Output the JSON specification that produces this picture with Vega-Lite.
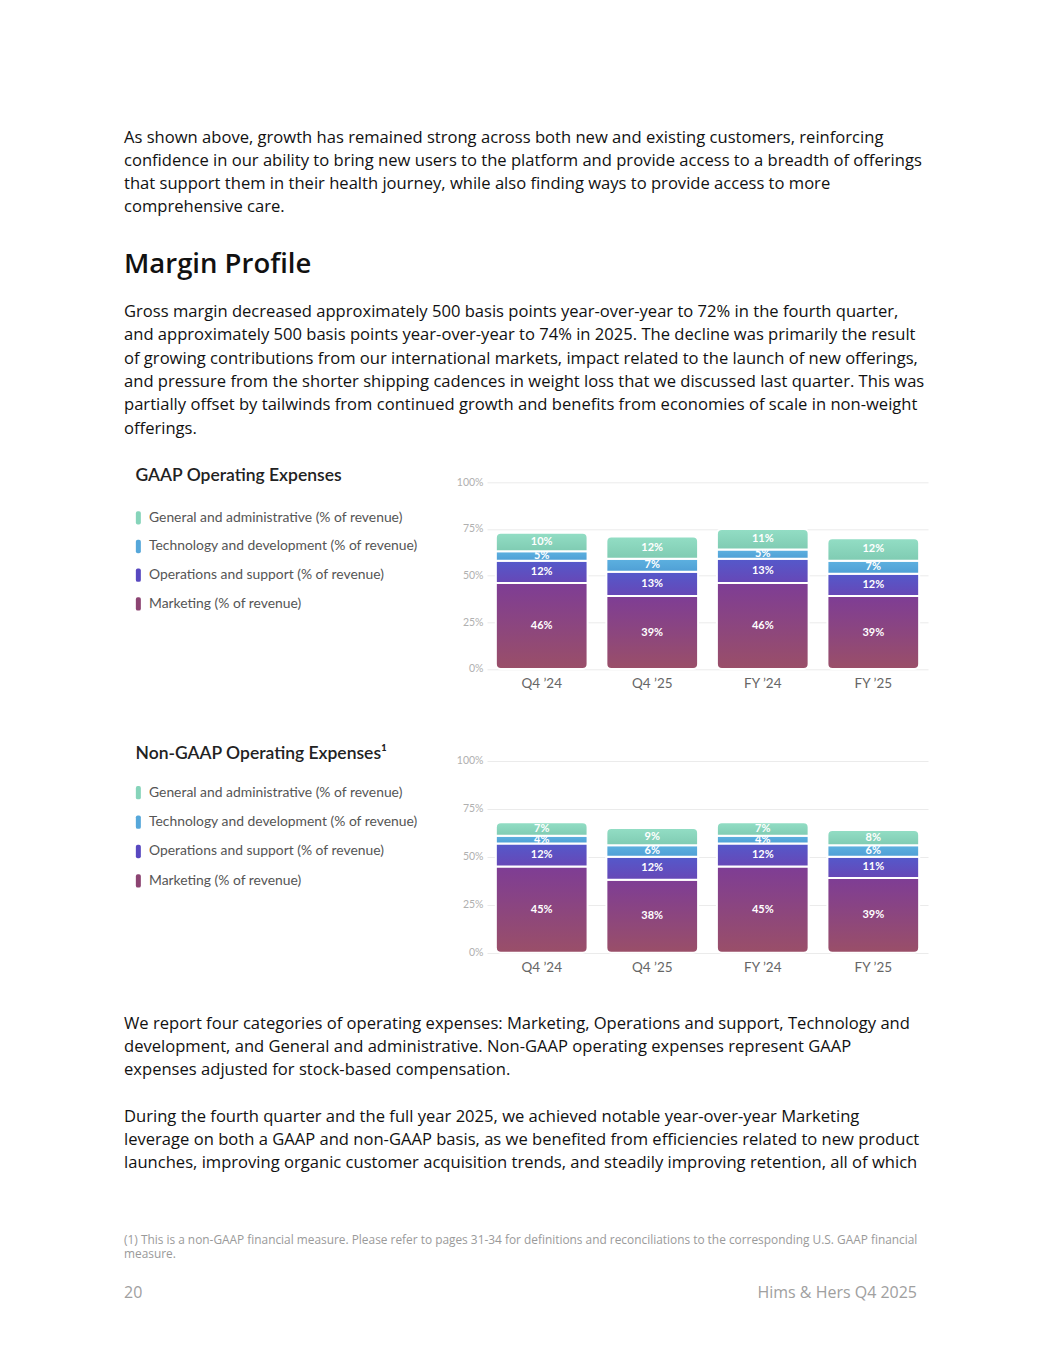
{
  "$schema": "https://vega.github.io/schema/vega-lite/v6.json",
  "background": "white",
  "padding": {"left": 124, "top": 129.3, "right": 20, "bottom": 20},
  "spacing": 91.7,
  "bounds": "flush",
  "resolve": {"scale": {"color": "independent"}, "legend": {"color": "independent"}},
  "config": {
    "view": {"stroke": null},
    "axisX": {"labelFont": "Lato", "labelFontSize": 13.5, "labelColor": "#666666", "labelAngle": 0, "labelPadding": 7.6, "ticks": false, "domain": false, "grid": false},
    "axisY": {"labelFont": "Lato", "labelFontSize": 10.5, "labelColor": "#b0b0b0", "labelPadding": 4, "ticks": false, "domain": false, "grid": true, "gridColor": "#ebebeb", "gridWidth": 1},
    "legend": {
      "orient": "none", "padding": 0,
      "titleFont": "Lato", "titleFontSize": 17.5, "titleFontWeight": 600, "titleColor": "#222222", "titleLimit": 1000,
      "labelFont": "Lato", "labelFontSize": 13.9, "labelColor": "#555555", "labelLimit": 1000, "labelOffset": -0.5,
      "symbolType": "M-1,-0.72 Q-1,-1 -0.72,-1 L-0.528,-1 Q-0.248,-1 -0.248,-0.72 L-0.248,0.72 Q-0.248,1 -0.528,1 L-0.72,1 Q-1,1 -1,0.72 Z",
      "symbolSize": 177, "symbolStrokeWidth": 0, "symbolOpacity": 1
    }
  },
  "datasets": {
    "gaap": [
      {"period": "Q4 ’24", "cat": "Marketing", "v": 0.46},
      {"period": "Q4 ’24", "cat": "Operations and support", "v": 0.12},
      {"period": "Q4 ’24", "cat": "Technology and development", "v": 0.05},
      {"period": "Q4 ’24", "cat": "General and administrative", "v": 0.10},
      {"period": "Q4 ’25", "cat": "Marketing", "v": 0.39},
      {"period": "Q4 ’25", "cat": "Operations and support", "v": 0.13},
      {"period": "Q4 ’25", "cat": "Technology and development", "v": 0.07},
      {"period": "Q4 ’25", "cat": "General and administrative", "v": 0.12},
      {"period": "FY ’24", "cat": "Marketing", "v": 0.46},
      {"period": "FY ’24", "cat": "Operations and support", "v": 0.13},
      {"period": "FY ’24", "cat": "Technology and development", "v": 0.05},
      {"period": "FY ’24", "cat": "General and administrative", "v": 0.11},
      {"period": "FY ’25", "cat": "Marketing", "v": 0.39},
      {"period": "FY ’25", "cat": "Operations and support", "v": 0.12},
      {"period": "FY ’25", "cat": "Technology and development", "v": 0.07},
      {"period": "FY ’25", "cat": "General and administrative", "v": 0.12}
    ],
    "nongaap": [
      {"period": "Q4 ’24", "cat": "Marketing", "v": 0.45},
      {"period": "Q4 ’24", "cat": "Operations and support", "v": 0.12},
      {"period": "Q4 ’24", "cat": "Technology and development", "v": 0.04},
      {"period": "Q4 ’24", "cat": "General and administrative", "v": 0.07},
      {"period": "Q4 ’25", "cat": "Marketing", "v": 0.38},
      {"period": "Q4 ’25", "cat": "Operations and support", "v": 0.12},
      {"period": "Q4 ’25", "cat": "Technology and development", "v": 0.06},
      {"period": "Q4 ’25", "cat": "General and administrative", "v": 0.09},
      {"period": "FY ’24", "cat": "Marketing", "v": 0.45},
      {"period": "FY ’24", "cat": "Operations and support", "v": 0.12},
      {"period": "FY ’24", "cat": "Technology and development", "v": 0.04},
      {"period": "FY ’24", "cat": "General and administrative", "v": 0.07},
      {"period": "FY ’25", "cat": "Marketing", "v": 0.39},
      {"period": "FY ’25", "cat": "Operations and support", "v": 0.11},
      {"period": "FY ’25", "cat": "Technology and development", "v": 0.06},
      {"period": "FY ’25", "cat": "General and administrative", "v": 0.08}
    ]
  },
  "title": {
    "text": [
      "As shown above, growth has remained strong across both new and existing customers, reinforcing",
      "confidence in our ability to bring new users to the platform and provide access to a breadth of offerings",
      "that support them in their health journey, while also finding ways to provide access to more",
      "comprehensive care."
    ],
    "orient": "top", "anchor": "start", "frame": "group", "dx": -363, "offset": 35.1, "baseline": "top",
    "font": "Open Sans", "fontSize": 16.6, "fontWeight": "normal", "color": "#111111", "lineHeight": 23.3, "limit": 2000
  },
  "vconcat": [
    {
      "width": 441, "height": 186.6,
      "data": {"name": "gaap"},
      "title": {
        "text": "Margin Profile",
        "subtitle": [
          "Gross margin decreased approximately 500 basis points year-over-year to 72% in the fourth quarter,",
          "and approximately 500 basis points year-over-year to 74% in 2025. The decline was primarily the result",
          "of growing contributions from our international markets, impact related to the launch of new offerings,",
          "and pressure from the shorter shipping cadences in weight loss that we discussed last quarter. This was",
          "partially offset by tailwinds from continued growth and benefits from economies of scale in non-weight",
          "offerings."
        ],
        "orient": "top", "anchor": "start", "frame": "group", "dx": -363, "offset": 29.3, "baseline": "top",
        "font": "Open Sans", "fontSize": 27.5, "fontWeight": 600, "color": "#111111", "limit": 2000,
        "subtitleFont": "Open Sans", "subtitleFontSize": 16.6, "subtitleFontWeight": "normal", "subtitleColor": "#111111",
        "subtitleLineHeight": 23.3, "subtitlePadding": 25.5
      },
      "transform": [
        {"stack": "v", "groupby": ["period"], "as": ["y0", "y1"]},
        {"calculate": "(datum.y0 + datum.y1) / 2", "as": "mid"}
      ],
      "encoding": {
        "x": {"field": "period", "type": "nominal", "sort": ["Q4 ’24", "Q4 ’25", "FY ’24", "FY ’25"], "scale": {"paddingInner": 0.17, "paddingOuter": 0.08}, "axis": {"title": null}},
        "y": {"field": "y1", "type": "quantitative", "scale": {"domain": [0, 1], "nice": false}, "axis": {"values": [0, 0.25, 0.5, 0.75, 1], "format": ".0%", "title": null}}
      },
      "layer": [
        {"transform": [{"filter": "datum.cat === 'Marketing'"}],
         "mark": {"type": "bar", "stroke": "white", "strokeWidth": 2, "cornerRadiusBottomLeft": 5, "cornerRadiusBottomRight": 5,
                  "fill": {"gradient": "linear", "x1": 0, "y1": 0, "x2": 0, "y2": 1, "stops": [{"offset": 0, "color": "#7e3d95"}, {"offset": 1, "color": "#9a4f68"}]}},
         "encoding": {"y2": {"field": "y0"}}},
        {"transform": [{"filter": "datum.cat === 'Operations and support'"}],
         "mark": {"type": "bar", "stroke": "white", "strokeWidth": 2,
                  "fill": {"gradient": "linear", "x1": 0, "y1": 0, "x2": 0, "y2": 1, "stops": [{"offset": 0, "color": "#5459cb"}, {"offset": 1, "color": "#6747b6"}]}},
         "encoding": {"y2": {"field": "y0"}}},
        {"transform": [{"filter": "datum.cat === 'Technology and development'"}],
         "mark": {"type": "bar", "stroke": "white", "strokeWidth": 2,
                  "fill": {"gradient": "linear", "x1": 0, "y1": 0, "x2": 0, "y2": 1, "stops": [{"offset": 0, "color": "#5db1e0"}, {"offset": 1, "color": "#4f9fd5"}]}},
         "encoding": {"y2": {"field": "y0"}}},
        {"transform": [{"filter": "datum.cat === 'General and administrative'"}],
         "mark": {"type": "bar", "stroke": "white", "strokeWidth": 2, "cornerRadiusTopLeft": 5, "cornerRadiusTopRight": 5,
                  "fill": {"gradient": "linear", "x1": 0, "y1": 0, "x2": 0, "y2": 1, "stops": [{"offset": 0, "color": "#93dec5"}, {"offset": 1, "color": "#7fcbb2"}]}},
         "encoding": {"y2": {"field": "y0"}}},
        {"transform": [{"filter": "false"}],
         "mark": {"type": "point", "filled": true, "opacity": 1, "strokeWidth": 0, "size": 177},
         "encoding": {"color": {"field": "cat", "type": "nominal",
            "scale": {"domain": ["General and administrative", "Technology and development", "Operations and support", "Marketing"], "range": ["#86d4ba", "#56a7da", "#5848c0", "#8c4472"]},
            "legend": {"title": "GAAP Operating Expenses", "legendX": -351.5, "legendY": -15.7, "titlePadding": 26.7, "rowPadding": 14.7, "labelExpr": "datum.label + ' (% of revenue)'"}}}},
        {"mark": {"type": "text", "font": "Lato", "fontSize": 11, "fontWeight": "bold", "color": "white", "baseline": "middle"},
         "encoding": {"y": {"field": "mid", "type": "quantitative"}, "text": {"field": "v", "type": "quantitative", "format": ".0%"}}}
      ]
    },
    {
      "width": 441, "height": 191.7,
      "data": {"name": "nongaap"},
      "title": {
        "text": [
          "We report four categories of operating expenses: Marketing, Operations and support, Technology and",
          "development, and General and administrative. Non-GAAP operating expenses represent GAAP",
          "expenses adjusted for stock-based compensation."
        ],
        "subtitle": [
          "During the fourth quarter and the full year 2025, we achieved notable year-over-year Marketing",
          "leverage on both a GAAP and non-GAAP basis, as we benefited from efficiencies related to new product",
          "launches, improving organic customer acquisition trends, and steadily improving retention, all of which"
        ],
        "orient": "bottom", "anchor": "start", "frame": "group", "dx": -363, "offset": 41.8, "baseline": "top",
        "font": "Open Sans", "fontSize": 16.6, "fontWeight": "normal", "color": "#111111", "lineHeight": 23.3, "limit": 2000,
        "subtitleFont": "Open Sans", "subtitleFontSize": 16.6, "subtitleFontWeight": "normal", "subtitleColor": "#111111", "subtitleLineHeight": 23.3, "subtitlePadding": 30
      },
      "transform": [
        {"stack": "v", "groupby": ["period"], "as": ["y0", "y1"]},
        {"calculate": "(datum.y0 + datum.y1) / 2", "as": "mid"}
      ],
      "encoding": {
        "x": {"field": "period", "type": "nominal", "sort": ["Q4 ’24", "Q4 ’25", "FY ’24", "FY ’25"], "scale": {"paddingInner": 0.17, "paddingOuter": 0.08}, "axis": {"title": null}},
        "y": {"field": "y1", "type": "quantitative", "scale": {"domain": [0, 1], "nice": false}, "axis": {"values": [0, 0.25, 0.5, 0.75, 1], "format": ".0%", "title": null}}
      },
      "layer": [
        {"transform": [{"filter": "datum.cat === 'Marketing'"}],
         "mark": {"type": "bar", "stroke": "white", "strokeWidth": 2, "cornerRadiusBottomLeft": 5, "cornerRadiusBottomRight": 5,
                  "fill": {"gradient": "linear", "x1": 0, "y1": 0, "x2": 0, "y2": 1, "stops": [{"offset": 0, "color": "#7e3d95"}, {"offset": 1, "color": "#9a4f68"}]}},
         "encoding": {"y2": {"field": "y0"}}},
        {"transform": [{"filter": "datum.cat === 'Operations and support'"}],
         "mark": {"type": "bar", "stroke": "white", "strokeWidth": 2,
                  "fill": {"gradient": "linear", "x1": 0, "y1": 0, "x2": 0, "y2": 1, "stops": [{"offset": 0, "color": "#5459cb"}, {"offset": 1, "color": "#6747b6"}]}},
         "encoding": {"y2": {"field": "y0"}}},
        {"transform": [{"filter": "datum.cat === 'Technology and development'"}],
         "mark": {"type": "bar", "stroke": "white", "strokeWidth": 2,
                  "fill": {"gradient": "linear", "x1": 0, "y1": 0, "x2": 0, "y2": 1, "stops": [{"offset": 0, "color": "#5db1e0"}, {"offset": 1, "color": "#4f9fd5"}]}},
         "encoding": {"y2": {"field": "y0"}}},
        {"transform": [{"filter": "datum.cat === 'General and administrative'"}],
         "mark": {"type": "bar", "stroke": "white", "strokeWidth": 2, "cornerRadiusTopLeft": 5, "cornerRadiusTopRight": 5,
                  "fill": {"gradient": "linear", "x1": 0, "y1": 0, "x2": 0, "y2": 1, "stops": [{"offset": 0, "color": "#93dec5"}, {"offset": 1, "color": "#7fcbb2"}]}},
         "encoding": {"y2": {"field": "y0"}}},
        {"transform": [{"filter": "false"}],
         "mark": {"type": "point", "filled": true, "opacity": 1, "strokeWidth": 0, "size": 177},
         "encoding": {"color": {"field": "cat", "type": "nominal",
            "scale": {"domain": ["General and administrative", "Technology and development", "Operations and support", "Marketing"], "range": ["#86d4ba", "#56a7da", "#5848c0", "#8c4472"]},
            "legend": {"title": "Non-GAAP Operating Expenses¹", "legendX": -351.5, "legendY": -15.5, "titlePadding": 22.7, "rowPadding": 15.4, "labelExpr": "datum.label + ' (% of revenue)'"}}}},
        {"mark": {"type": "text", "font": "Lato", "fontSize": 11, "fontWeight": "bold", "color": "white", "baseline": "middle"},
         "encoding": {"y": {"field": "mid", "type": "quantitative"}, "text": {"field": "v", "type": "quantitative", "format": ".0%"}}}
      ]
    },
    {
      "width": 430, "height": 1,
      "data": {"values": []},
      "mark": "point",
      "title": {
        "text": [
          "(1) This is a non-GAAP financial measure. Please refer to pages 31-34 for definitions and reconciliations to the corresponding U.S. GAAP financial",
          "measure."
        ],
        "subtitle": "20",
        "orient": "bottom", "anchor": "start", "frame": "group", "dx": -363, "offset": 189.2, "baseline": "top",
        "font": "Open Sans", "fontSize": 11.9, "fontWeight": "normal", "color": "#9a9a9a", "lineHeight": 14, "limit": 2000,
        "subtitleFont": "Open Sans", "subtitleFontSize": 16, "subtitleColor": "#a0a0a0", "subtitlePadding": 24.6
      }
    },
    {
      "width": 430, "height": 1,
      "data": {"values": []},
      "mark": "point",
      "title": {"text": "Hims & Hers Q4 2025", "orient": "bottom", "anchor": "end", "frame": "group", "offset": 146.2, "baseline": "top",
                "font": "Open Sans", "fontSize": 16, "fontWeight": "normal", "color": "#a0a0a0", "limit": 1000}
    }
  ]
}
